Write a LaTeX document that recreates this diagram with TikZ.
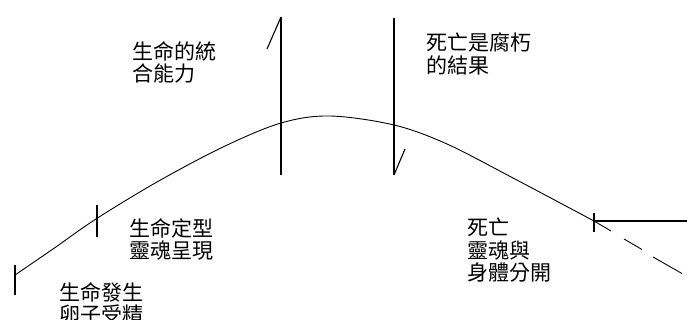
\documentclass[tikz,border=0pt]{standalone}
\usepackage{fontspec}
\newfontfamily\cjk{Noto Sans CJK TC}
\tikzset{
  curveline/.style={line width=0.9pt, line join=round},
  postline/.style={line width=1.4pt},
  tickline/.style={line width=1.3pt},
  flagline/.style={line width=1.1pt},
  lbl/.style={anchor=north west, inner sep=0pt, align=left,
    font=\cjk\fontsize{21}{22.5}\selectfont}
}
\begin{document}
\begin{tikzpicture}[x=1pt,y=-1pt]
\useasboundingbox (0,0) rectangle (687,320);
\clip (0,0) rectangle (687,320);
% main curve
\coordinate (start) at (15,275);
\coordinate (t2) at (96,219);
\coordinate (p1) at (281,123);
\coordinate (p2) at (394,125);
\coordinate (t3) at (594,221);
\draw[curveline] plot[smooth, tension=0.55] coordinates
  {(15,275) (53,249) (96,219) (157,182) (223,147) (281,123) (330,116) (394,125) (447,144) (513,178) (594,221)};
% dashed continuation
\draw[curveline] (594,221) -- (611,231);
\draw[curveline] (624,239) -- (642,249.5);
\draw[curveline] (653,257) -- (682,273.5);
% ticks
\draw[tickline] (15,265) -- (15,295);
\draw[tickline] (97,205) -- (97,237);
\draw[tickline] (594,213) -- (594,232);
\draw[tickline] (t3) -- (687,221);
% posts
\coordinate (v1top) at (281,17);
\coordinate (v1bot) at (281,175);
\coordinate (v2top) at (394,18);
\coordinate (v2bot) at (394,175);
\draw[postline] (v1top) -- (v1bot);
\draw[flagline] (v1top) -- (267,49);
\draw[postline] (v2top) -- (v2bot);
\draw[flagline] (v2bot) -- (405,149);
% labels
\node[lbl] (a) at (132,41) {生命的統\\合能力};
\node[lbl] (b) at (426,33) {死亡是腐朽\\的結果};
\node[lbl] (c) at (129,218) {生命定型\\靈魂呈現};
\node[lbl] (d) at (59,282) {生命發生\\卵子受精};
\node[lbl] (e) at (467,218) {死亡\\靈魂與\\身體分開};
\end{tikzpicture}
\end{document}
